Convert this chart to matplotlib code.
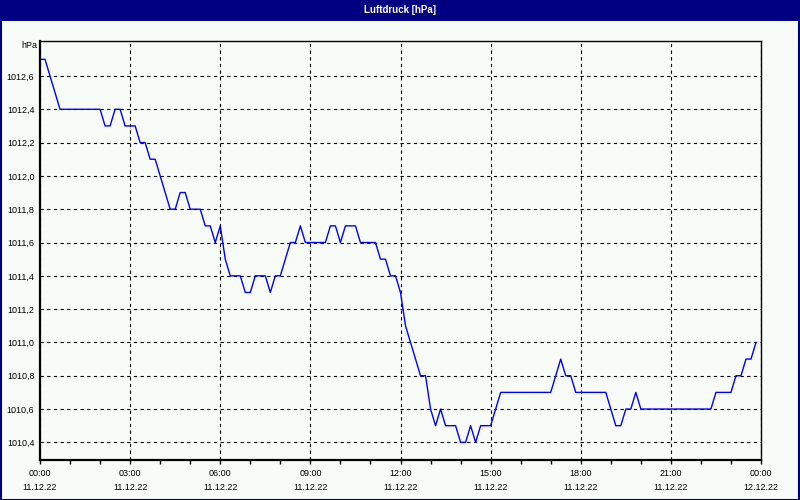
import numpy as np
import matplotlib
matplotlib.use('Agg')
import matplotlib.pyplot as plt
from matplotlib.patches import Rectangle
from matplotlib.ticker import FuncFormatter, MultipleLocator

# Luftdruck, 10-Minuten-Werte ab 11.12.22 00:00
step_min = 10
pressure = [1012.7, 1012.7, 1012.6, 1012.5, 1012.4, 1012.4, 1012.4, 1012.4, 1012.4, 1012.4,
            1012.4, 1012.4, 1012.4, 1012.3, 1012.3, 1012.4, 1012.4, 1012.3, 1012.3, 1012.3,
            1012.2, 1012.2, 1012.1, 1012.1, 1012.0, 1011.9, 1011.8, 1011.8, 1011.9, 1011.9,
            1011.8, 1011.8, 1011.8, 1011.7, 1011.7, 1011.6, 1011.7, 1011.5, 1011.4, 1011.4,
            1011.4, 1011.3, 1011.3, 1011.4, 1011.4, 1011.4, 1011.3, 1011.4, 1011.4, 1011.5,
            1011.6, 1011.6, 1011.7, 1011.6, 1011.6, 1011.6, 1011.6, 1011.6, 1011.7, 1011.7,
            1011.6, 1011.7, 1011.7, 1011.7, 1011.6, 1011.6, 1011.6, 1011.6, 1011.5, 1011.5,
            1011.4, 1011.4, 1011.3, 1011.1, 1011.0, 1010.9, 1010.8, 1010.8, 1010.6, 1010.5,
            1010.6, 1010.5, 1010.5, 1010.5, 1010.4, 1010.4, 1010.5, 1010.4, 1010.5, 1010.5,
            1010.5, 1010.6, 1010.7, 1010.7, 1010.7, 1010.7, 1010.7, 1010.7, 1010.7, 1010.7,
            1010.7, 1010.7, 1010.7, 1010.8, 1010.9, 1010.8, 1010.8, 1010.7, 1010.7, 1010.7,
            1010.7, 1010.7, 1010.7, 1010.7, 1010.6, 1010.5, 1010.5, 1010.6, 1010.6, 1010.7,
            1010.6, 1010.6, 1010.6, 1010.6, 1010.6, 1010.6, 1010.6, 1010.6, 1010.6, 1010.6,
            1010.6, 1010.6, 1010.6, 1010.6, 1010.6, 1010.7, 1010.7, 1010.7, 1010.7, 1010.8,
            1010.8, 1010.9, 1010.9, 1011.0]

x_labels = ['00:00\n11.12.22', '03:00\n11.12.22', '06:00\n11.12.22', '09:00\n11.12.22',
            '12:00\n11.12.22', '15:00\n11.12.22', '18:00\n11.12.22', '21:00\n11.12.22',
            '00:00\n12.12.22']
y_ticks = [1010.4, 1010.6, 1010.8, 1011.0, 1011.2, 1011.4, 1011.6, 1011.8, 1012.0, 1012.2, 1012.4, 1012.6]

title = 'Luftdruck [hPa]'
bg = '#f8fcf8'
navy = '#000080'

plt.rcParams['font.family'] = ['Liberation Sans', 'DejaVu Sans']

hours = np.arange(len(pressure)) * step_min / 60.0

fig = plt.figure(figsize=(8, 5), dpi=100, facecolor=bg)
ax = fig.add_axes([40/800, 1 - 460/500, 721/800, 419/500], facecolor=bg)

ax.plot(hours, pressure, color='#0000ff', linewidth=1.0, zorder=3)

ax.set_xlim(0, 24)
ax.set_ylim(1010.294, 1012.81)

# x axis: 3h major with labels, 1h minor ticks
ax.set_xticks(np.arange(0, 25, 3))
ax.set_xticklabels(x_labels, fontsize=6.5, linespacing=1.75)
ax.xaxis.set_minor_locator(MultipleLocator(1))
ax.tick_params(axis='x', which='both', direction='out', length=3, width=1, pad=3.5, colors='black')

ax.set_yticks(y_ticks)
ax.yaxis.set_major_formatter(FuncFormatter(lambda v, p: f'{v:.1f}'.replace('.', ',')))
ax.tick_params(axis='y', length=0, pad=4, labelsize=6.5)

ax.grid(True, which='major', color='black', linestyle=(0, (3, 3)), linewidth=0.8)

for side in ['left', 'bottom']:
    ax.spines[side].set_linewidth(1.6)
for side in ['top', 'right']:
    ax.spines[side].set_linewidth(1.0)

# Einheit links oben
fig.text(37/800, 1 - 45/500, 'hPa', ha='right', va='center', fontsize=6.5)

# Titelleiste und Rahmen
fig.patches.append(Rectangle((0, 1 - 21/500), 1, 21/500, transform=fig.transFigure,
                             facecolor=navy, edgecolor='none', zorder=0))
fig.patches.append(Rectangle((0.0008, 0.001), 0.998, 0.998, transform=fig.transFigure,
                             facecolor='none', edgecolor=navy, linewidth=1.5, zorder=5))
fig.text(0.5, 1 - 10/500, title, ha='center', va='center', color='white',
         fontsize=7, fontweight='bold')

plt.savefig('out.png', dpi=100, facecolor=bg)
